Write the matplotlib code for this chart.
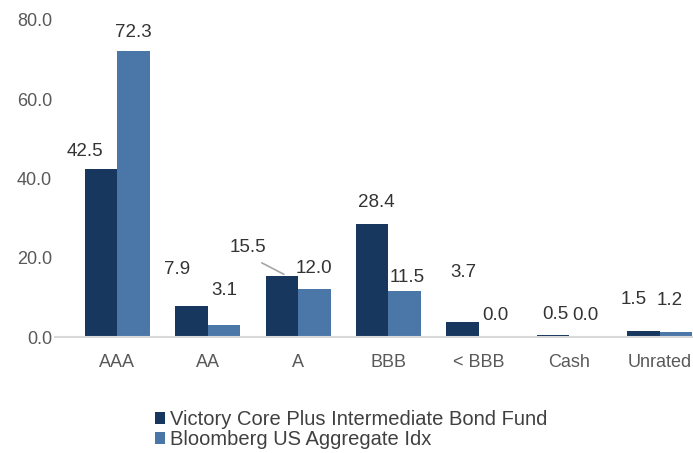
import numpy as np
import matplotlib.pyplot as plt

categories = ["AAA", "AA", "A", "BBB", "< BBB", "Cash", "Unrated"]
fund = [42.5, 7.9, 15.5, 28.4, 3.7, 0.5, 1.5]
index = [72.3, 3.1, 12.0, 11.5, 0.0, 0.0, 1.2]
series_names = ["Victory Core Plus Intermediate Bond Fund", "Bloomberg US Aggregate Idx"]

# label offsets in pixels (dx, dy above bar top), hand-placed like the original
fund_off = [(-16, 17), (-14, 36), (-34, 28), (4, 22), (1, 50), (2, 21), (-10, 32)]
index_off = [(0, 18), (0, 34), (0, 21), (2, 14), (0, 21), (0, 21), (-6, 32)]

dark = "#17375e"
light = "#4a76a8"
grey = "#595959"

plt.rcParams['font.family'] = ['Liberation Sans', 'DejaVu Sans']

fig = plt.figure(figsize=(6.93, 4.53), dpi=100)
ax = fig.add_axes([55 / 693, 1 - 337 / 453, 638 / 693, 317 / 453])

x = np.arange(len(categories))
w = 0.36
b1 = ax.bar(x - w / 2, fund, w, color=dark, label=series_names[0])
b2 = ax.bar(x + w / 2, index, w, color=light, label=series_names[1])

for bars, vals, offs in [(b1, fund, fund_off), (b2, index, index_off)]:
    for bar, v, (dx, dy) in zip(bars, vals, offs):
        cx = bar.get_x() + bar.get_width() / 2
        ax.annotate(f"{v:.1f}", (cx, v), xytext=(dx * 0.72, dy * 0.72),
                    textcoords="offset points", ha="center", va="center",
                    fontsize=13.5, color="#333333")

# leader line for the A fund label
ax.annotate("", (x[2] - w / 2 + 0.05, fund[2]), xytext=(-27 * 0.72, 14 * 0.72),
            textcoords="offset points",
            arrowprops=dict(arrowstyle="-", color="#a6a6a6", lw=1.2))

ax.set_xlim(-0.69, 6.37)
ax.set_ylim(0, 80)
ax.set_yticks([0, 20, 40, 60, 80])
ax.set_yticklabels([f"{t:.1f}" for t in [0, 20, 40, 60, 80]])
ax.set_xticks(x)
ax.set_xticklabels(categories)
ax.tick_params(axis="both", length=0, labelsize=13, labelcolor=grey)
ax.tick_params(axis="x", pad=12)
ax.tick_params(axis="y", pad=2)
for s in ["top", "right", "left"]:
    ax.spines[s].set_visible(False)
ax.spines["bottom"].set_color("#d9d9d9")
ax.spines["bottom"].set_linewidth(1.5)

fig.legend(handles=[b1, b2], loc="upper left", bbox_to_anchor=(145 / 693, 1 - 400 / 453),
           frameon=False, fontsize=14.5, handlelength=0.5, handleheight=0.5,
           handletextpad=0.25, labelspacing=0.05, borderpad=0, labelcolor="#404040")

plt.savefig("out.png", dpi=100)
